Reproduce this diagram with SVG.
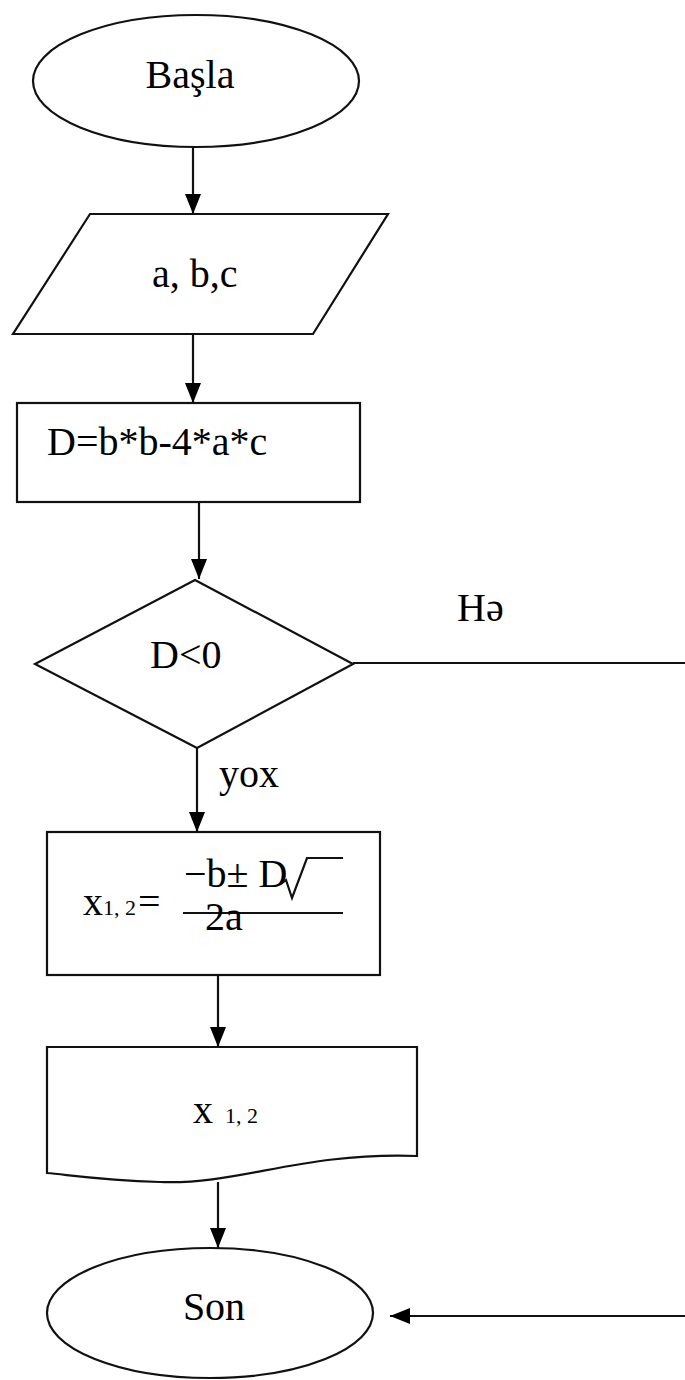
<svg xmlns="http://www.w3.org/2000/svg" width="685" height="1380" viewBox="0 0 685 1380">
<style>
.s{fill:#fff;stroke:#111;stroke-width:2.2}
.c{fill:none;stroke:#111;stroke-width:2.2}
text{font-family:'Liberation Serif','Times New Roman',Times,serif;font-size:40px;fill:#000}
</style>
<defs>
<marker id="ah" viewBox="0 0 20 16" refX="20" refY="8" markerWidth="20" markerHeight="16" markerUnits="userSpaceOnUse" orient="auto">
<path d="M0,0 L20,8 L0,16 Z" fill="#000"/>
</marker>
</defs>
<rect width="685" height="1380" fill="#fff"/>
<g id="connectors">
<line class="c" x1="193" y1="147" x2="193" y2="214" marker-end="url(#ah)"/>
<line class="c" x1="193" y1="334" x2="193" y2="403" marker-end="url(#ah)"/>
<line class="c" x1="199" y1="502" x2="199" y2="579" marker-end="url(#ah)"/>
<line class="c" x1="197" y1="748" x2="197" y2="832" marker-end="url(#ah)"/>
<line class="c" x1="218" y1="975" x2="218" y2="1047" marker-end="url(#ah)"/>
<line class="c" x1="218" y1="1182" x2="218" y2="1248" marker-end="url(#ah)"/>
<line class="c" x1="353" y1="663" x2="685" y2="663"/>
<line class="c" x1="685" y1="1316" x2="390" y2="1316" marker-end="url(#ah)"/>
<text font-family="Liberation Serif, serif" x="457" y="621">Hə</text>
<text font-family="Liberation Serif, serif" x="219" y="787">yox</text>
</g>
<g id="start">
<ellipse class="s" cx="196" cy="81" rx="163" ry="66"/>
<text font-family="Liberation Serif, serif" x="190" y="88" text-anchor="middle">Başla</text>
</g>
<g id="input">
<polygon class="s" points="90,214 388,214 313,334 13,334"/>
<text font-family="Liberation Serif, serif" x="152" y="287">a, b,c</text>
</g>
<g id="compute">
<rect class="s" x="17" y="403" width="343" height="99"/>
<text font-family="Liberation Serif, serif" x="47" y="455">D=b*b-4*a*c</text>
</g>
<g id="decision">
<polygon class="s" points="195,580 353,664 197,748 35,664"/>
<text font-family="Liberation Serif, serif" x="150" y="668">D&lt;0</text>
</g>
<g id="formula">
<rect class="s" x="47" y="832" width="333" height="143"/>
<text font-family="Liberation Serif, serif" x="83" y="915">x<tspan font-size="22">1, 2</tspan></text>
<text font-family="Liberation Serif, serif" x="138" y="915">=</text>
<text font-family="Liberation Serif, serif" x="184" y="887" font-size="38">−b± D</text>
<path class="c" d="M281,884 L286,880 L292,898 L307,858 L343,858"/>
<line class="c" x1="183" y1="913" x2="343" y2="913"/>
<text font-family="Liberation Serif, serif" x="205" y="930" font-size="35">2a</text>
</g>
<g id="output">
<path class="s" d="M47,1047 H417 V1156 C300,1152 240,1185 160,1182 C100,1180 70,1175 47,1173 Z"/>
<text font-family="Liberation Serif, serif" x="193" y="1123">x<tspan font-size="22" dx="12">1, 2</tspan></text>
</g>
<g id="end">
<ellipse class="s" cx="210" cy="1313" rx="163" ry="65"/>
<text font-family="Liberation Serif, serif" x="214" y="1320" text-anchor="middle">Son</text>
</g>
</svg>
